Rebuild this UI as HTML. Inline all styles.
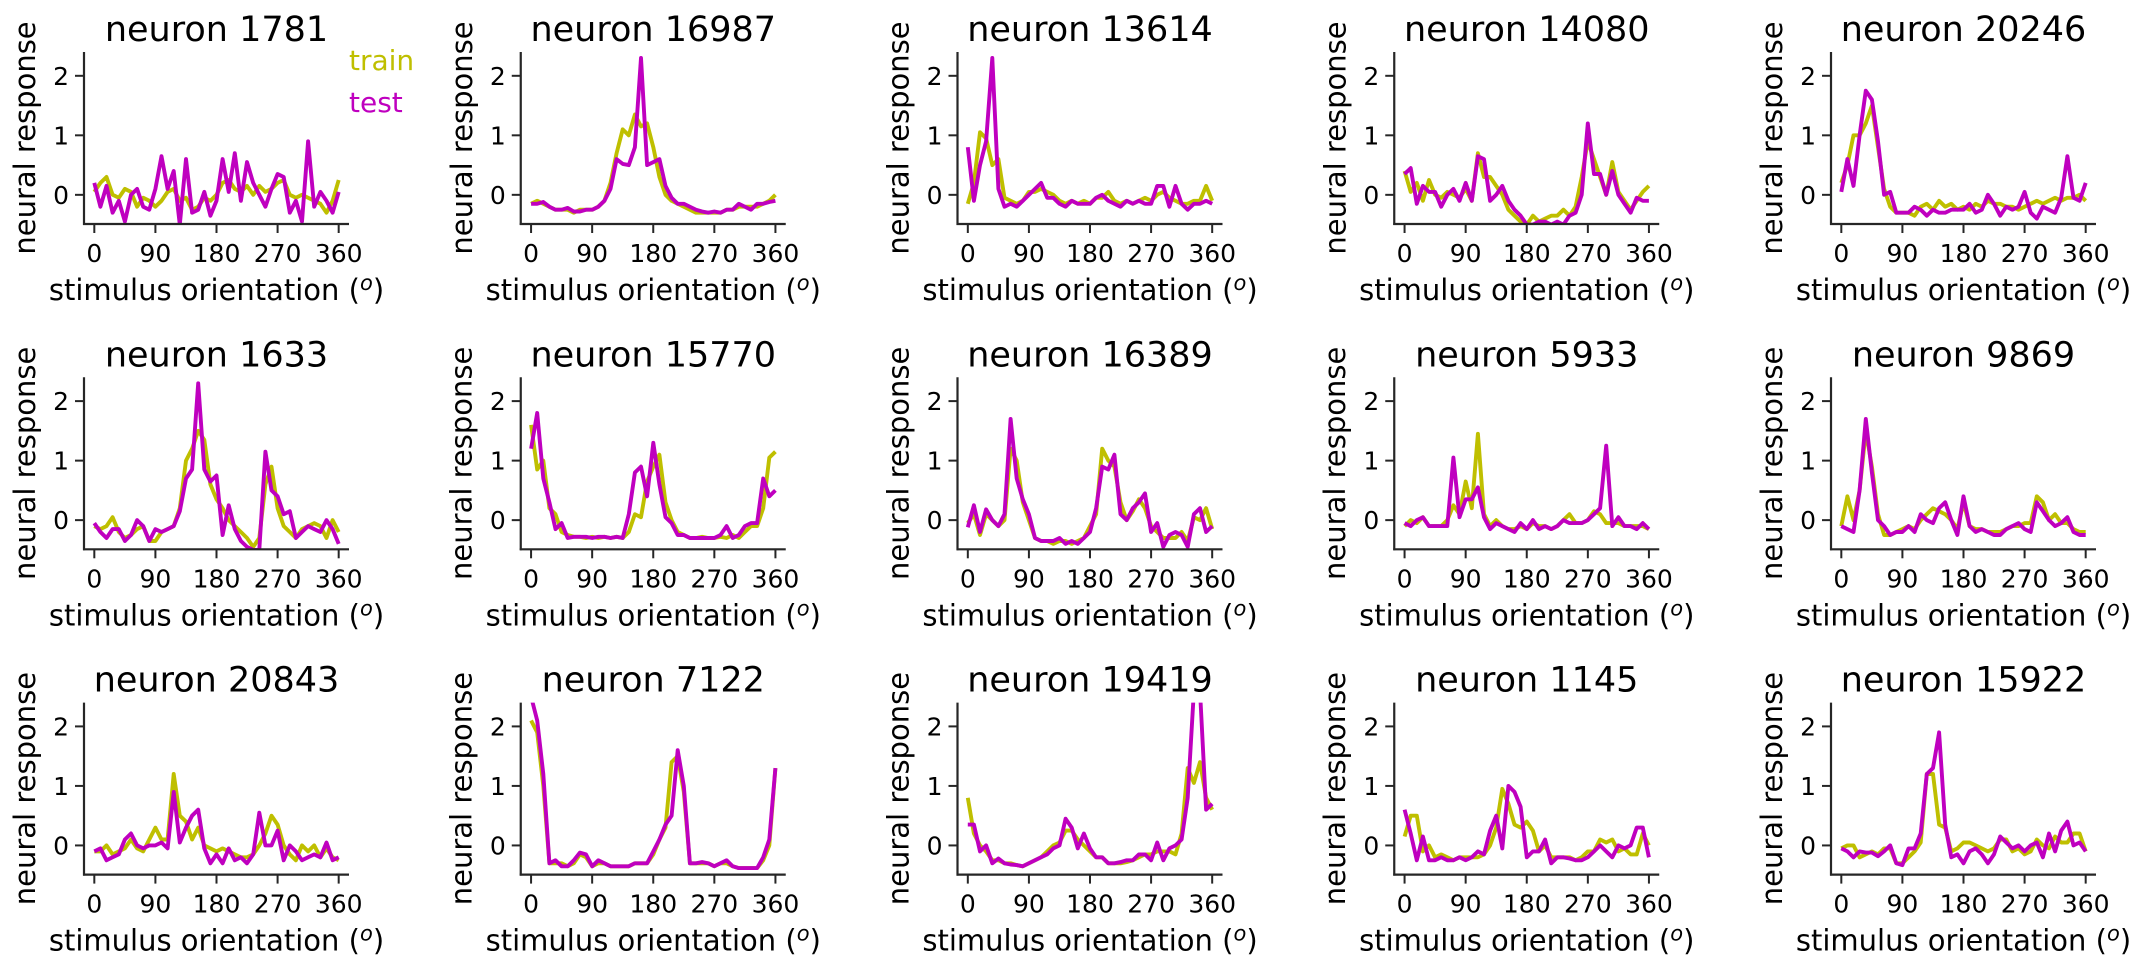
<!DOCTYPE html>
<html>
<head>
<meta charset="utf-8">
<style>
  html,body{margin:0;padding:0;background:#fff;}
  svg{display:block;font-family:"DejaVu Sans","Liberation Sans",sans-serif;}
</style>
</head>
<body>
<svg id="fig" width="2151" height="971" viewBox="0 0 2151 971" xmlns="http://www.w3.org/2000/svg"></svg>
<script>
// ---- data (values per 9° step, 0..360) ----
const neuronIds = ["1781","16987","13614","14080","20246","1633","15770","16389","5933","9869","20843","7122","19419","1145","15922"];
const xTicks = [0, 90, 180, 270, 360];
const yTicks = [0, 1, 2];

const train_1781 = [0.05,0.2,0.3,0.0,-0.05,0.1,0.05,-0.2,-0.05,-0.1,-0.2,-0.1,0.05,0.1,-0.1,-0.05,-0.25,-0.2,-0.05,-0.1,0.0,0.2,0.25,0.1,0.05,0.15,0.0,0.15,0.05,0.1,0.2,0.25,0.0,-0.05,0.0,-0.05,-0.1,-0.15,-0.3,-0.1,0.25];
const test_1781 = [0.2,-0.2,0.15,-0.3,-0.1,-0.45,0.0,0.1,-0.2,-0.25,0.1,0.65,0.1,0.4,-0.5,0.6,-0.3,-0.25,0.05,-0.35,-0.1,0.6,0.05,0.7,-0.1,0.55,0.2,0.0,-0.2,0.1,0.35,0.3,-0.3,-0.1,-0.45,0.9,-0.2,0.05,-0.1,-0.3,0.05];
const train_16987 = [-0.15,-0.1,-0.15,-0.2,-0.25,-0.25,-0.25,-0.3,-0.25,-0.25,-0.25,-0.2,-0.1,0.2,0.7,1.1,1.0,1.35,1.15,1.2,0.8,0.3,0.0,-0.1,-0.15,-0.2,-0.25,-0.3,-0.3,-0.3,-0.3,-0.3,-0.25,-0.25,-0.2,-0.2,-0.2,-0.2,-0.15,-0.1,0.0];
const test_16987 = [-0.15,-0.15,-0.12,-0.2,-0.25,-0.25,-0.22,-0.28,-0.28,-0.25,-0.25,-0.2,-0.1,0.1,0.6,0.52,0.5,0.8,2.3,0.5,0.55,0.6,0.15,-0.05,-0.15,-0.15,-0.2,-0.25,-0.28,-0.3,-0.28,-0.3,-0.25,-0.25,-0.15,-0.2,-0.25,-0.15,-0.15,-0.12,-0.1];
const train_13614 = [-0.15,0.2,1.05,0.95,0.5,0.6,-0.05,-0.1,-0.15,-0.1,0.05,0.05,0.1,0.05,0.0,-0.1,-0.15,-0.1,-0.15,-0.1,-0.15,-0.05,-0.05,0.05,-0.1,-0.15,-0.1,-0.15,-0.1,-0.05,-0.1,0.0,0.05,-0.05,-0.1,-0.15,-0.15,-0.1,-0.1,0.15,-0.1];
const test_13614 = [0.8,-0.1,0.5,0.9,2.3,0.1,-0.2,-0.15,-0.2,-0.1,0.0,0.1,0.2,-0.05,-0.05,-0.15,-0.2,-0.1,-0.15,-0.15,-0.15,-0.05,0.0,-0.1,-0.15,-0.2,-0.1,-0.15,-0.1,-0.15,-0.15,0.15,0.15,-0.2,0.15,-0.15,-0.25,-0.15,-0.15,-0.1,-0.15];
const train_14080 = [0.4,0.05,0.2,-0.1,0.25,0.0,-0.05,0.05,0.0,-0.05,0.1,-0.1,0.7,0.3,0.3,0.15,0.0,-0.25,-0.35,-0.45,-0.5,-0.35,-0.45,-0.4,-0.35,-0.35,-0.25,-0.35,-0.2,0.3,0.9,0.6,0.3,0.0,0.55,0.05,-0.1,-0.25,-0.1,0.05,0.15];
const test_14080 = [0.35,0.45,-0.15,0.15,0.05,0.05,-0.2,0.0,0.1,-0.1,0.2,-0.1,0.65,0.6,-0.1,0.0,0.15,-0.1,-0.25,-0.35,-0.5,-0.5,-0.45,-0.45,-0.5,-0.45,-0.5,-0.35,-0.3,0.0,1.2,0.35,0.35,0.0,0.4,0.0,-0.15,-0.3,-0.05,-0.1,-0.1];
const train_20246 = [0.2,0.5,1.0,1.0,1.2,1.5,0.8,0.1,-0.2,-0.3,-0.3,-0.3,-0.35,-0.2,-0.15,-0.25,-0.1,-0.2,-0.15,-0.25,-0.2,-0.25,-0.15,-0.2,-0.1,-0.15,-0.15,-0.2,-0.2,-0.25,-0.2,-0.15,-0.1,-0.15,-0.1,-0.05,-0.1,-0.05,-0.05,0.0,-0.1];
const test_20246 = [0.05,0.6,0.15,1.0,1.75,1.6,0.9,0.0,0.05,-0.3,-0.3,-0.3,-0.2,-0.25,-0.35,-0.25,-0.3,-0.3,-0.25,-0.25,-0.25,-0.15,-0.3,-0.25,0.0,-0.15,-0.35,-0.2,-0.25,-0.2,0.05,-0.3,-0.4,-0.2,-0.25,-0.3,-0.05,0.65,-0.05,-0.1,0.2];
const train_1633 = [-0.1,-0.15,-0.1,0.05,-0.2,-0.3,-0.25,-0.15,-0.1,-0.35,-0.35,-0.2,-0.15,-0.1,0.2,1.0,1.2,1.5,1.35,0.6,0.35,0.2,0.0,-0.1,-0.2,-0.3,-0.45,-0.3,0.6,0.9,0.2,-0.1,-0.2,-0.3,-0.15,-0.1,-0.05,-0.1,-0.3,0.0,-0.2];
const test_1633 = [-0.05,-0.2,-0.3,-0.15,-0.15,-0.35,-0.25,0.0,-0.1,-0.35,-0.15,-0.2,-0.15,-0.1,0.15,0.7,0.85,2.3,0.85,0.65,0.75,-0.25,0.25,-0.15,-0.35,-0.45,-0.5,-0.5,1.15,0.5,0.4,0.1,0.15,-0.3,-0.2,-0.1,-0.15,-0.2,0.0,-0.15,-0.4];
const train_15770 = [1.6,0.85,1.0,0.2,0.1,-0.2,-0.25,-0.28,-0.28,-0.3,-0.28,-0.3,-0.28,-0.3,-0.28,-0.3,-0.2,0.1,0.05,0.65,0.9,1.1,0.3,0.0,-0.2,-0.25,-0.3,-0.3,-0.28,-0.3,-0.3,-0.28,-0.3,-0.25,-0.3,-0.2,-0.1,-0.1,0.2,1.05,1.15];
const test_15770 = [1.2,1.8,0.7,0.3,-0.15,-0.05,-0.3,-0.28,-0.28,-0.28,-0.3,-0.28,-0.28,-0.3,-0.28,-0.3,0.1,0.8,0.9,0.4,1.3,0.6,0.05,-0.05,-0.25,-0.25,-0.3,-0.3,-0.3,-0.3,-0.3,-0.25,-0.1,-0.3,-0.25,-0.1,-0.05,-0.05,0.7,0.4,0.5];
const train_16389 = [-0.05,0.1,-0.25,0.1,0.0,-0.1,0.0,1.2,1.0,0.3,0.0,-0.3,-0.35,-0.35,-0.4,-0.35,-0.35,-0.4,-0.35,-0.3,-0.1,0.1,1.2,1.0,0.9,0.3,0.0,0.15,0.35,0.2,-0.1,-0.2,-0.3,-0.3,-0.3,-0.2,-0.35,0.05,0.0,0.2,-0.15];
const test_16389 = [-0.12,0.25,-0.2,0.18,0.0,-0.1,0.1,1.7,0.7,0.35,0.1,-0.3,-0.35,-0.35,-0.35,-0.3,-0.4,-0.35,-0.4,-0.3,-0.2,0.2,0.9,0.85,1.1,0.1,0.0,0.2,0.3,0.45,-0.2,-0.05,-0.45,-0.25,-0.2,-0.25,-0.45,0.1,0.2,-0.2,-0.1];
const train_5933 = [-0.1,0.0,-0.05,0.05,-0.1,-0.1,-0.1,0.0,0.25,0.1,0.65,0.2,1.45,0.1,-0.1,0.0,-0.1,-0.15,-0.15,-0.1,-0.15,-0.05,-0.1,-0.1,-0.15,-0.1,0.0,0.1,-0.05,-0.05,0.0,0.15,0.1,-0.05,-0.05,-0.05,-0.1,-0.1,-0.1,-0.1,-0.15];
const test_5933 = [-0.05,-0.1,0.0,0.05,-0.1,-0.1,-0.1,-0.1,1.05,0.05,0.35,0.35,0.55,0.05,-0.15,-0.05,-0.1,-0.15,-0.2,-0.05,-0.15,0.0,-0.15,-0.1,-0.15,-0.1,0.0,-0.05,-0.05,-0.05,0.0,0.1,0.2,1.25,-0.1,0.05,-0.1,-0.1,-0.15,-0.05,-0.15];
const train_9869 = [-0.1,0.4,0.0,0.5,1.5,0.9,0.1,-0.25,-0.25,-0.2,-0.15,-0.1,-0.15,0.0,0.1,0.2,0.15,0.1,0.0,-0.15,0.3,-0.1,-0.15,-0.15,-0.2,-0.2,-0.2,-0.15,-0.1,-0.1,-0.05,-0.05,0.4,0.3,0.0,0.1,-0.05,-0.05,-0.15,-0.2,-0.2];
const test_9869 = [-0.1,-0.15,-0.2,0.5,1.7,0.8,0.0,-0.1,-0.25,-0.2,-0.2,-0.1,-0.2,0.1,0.0,-0.05,0.2,0.3,0.0,-0.25,0.4,-0.1,-0.2,-0.15,-0.2,-0.25,-0.25,-0.15,-0.1,-0.05,-0.15,-0.2,0.3,0.15,0.0,-0.1,-0.05,0.05,-0.2,-0.25,-0.25];
const train_20843 = [-0.1,-0.1,0.0,-0.15,-0.1,-0.05,0.1,-0.05,-0.1,0.1,0.3,0.1,0.1,1.2,0.5,0.4,0.1,0.3,0.0,-0.05,-0.1,-0.05,-0.1,-0.15,-0.2,-0.2,-0.15,0.0,0.2,0.5,0.35,0.0,-0.15,-0.25,0.0,-0.1,0.0,-0.2,-0.05,-0.2,-0.25];
const test_20843 = [-0.1,-0.05,-0.25,-0.2,-0.15,0.1,0.2,0.0,-0.05,0.0,0.0,0.05,-0.05,0.9,0.05,0.3,0.5,0.6,-0.05,-0.3,-0.15,-0.3,-0.05,-0.25,-0.2,-0.3,-0.15,0.55,0.0,0.0,0.25,-0.25,0.0,-0.1,-0.25,-0.2,-0.15,-0.2,0.05,-0.25,-0.2];
const train_7122 = [2.1,1.9,1.0,-0.3,-0.3,-0.3,-0.35,-0.3,-0.15,-0.2,-0.35,-0.3,-0.3,-0.35,-0.35,-0.35,-0.35,-0.3,-0.3,-0.3,-0.15,0.1,0.3,1.4,1.5,0.9,-0.3,-0.3,-0.3,-0.3,-0.35,-0.3,-0.3,-0.35,-0.38,-0.38,-0.38,-0.38,-0.25,0.0,1.3];
const test_7122 = [2.5,2.1,1.2,-0.3,-0.25,-0.35,-0.35,-0.25,-0.12,-0.15,-0.35,-0.25,-0.3,-0.35,-0.35,-0.35,-0.35,-0.3,-0.3,-0.3,-0.1,0.1,0.35,0.5,1.6,1.0,-0.3,-0.3,-0.28,-0.3,-0.35,-0.3,-0.25,-0.35,-0.38,-0.38,-0.38,-0.38,-0.2,0.1,1.3];
const train_19419 = [0.8,0.2,0.0,-0.1,-0.25,-0.25,-0.3,-0.3,-0.33,-0.35,-0.3,-0.25,-0.2,-0.1,0.0,0.05,0.25,0.25,0.1,0.0,-0.1,-0.2,-0.2,-0.3,-0.3,-0.3,-0.28,-0.25,-0.2,-0.15,-0.15,-0.1,-0.1,-0.1,-0.15,0.2,1.3,1.05,1.4,0.8,0.6];
const test_19419 = [0.35,0.35,-0.1,0.0,-0.3,-0.22,-0.3,-0.32,-0.33,-0.35,-0.3,-0.25,-0.2,-0.15,-0.05,0.0,0.45,0.3,-0.05,0.2,-0.05,-0.2,-0.2,-0.3,-0.3,-0.28,-0.25,-0.25,-0.15,-0.15,-0.25,0.05,-0.25,-0.05,0.0,0.1,0.8,2.6,2.6,0.6,0.7];
const train_1145 = [0.15,0.5,0.5,-0.1,0.0,-0.2,-0.15,-0.2,-0.25,-0.2,-0.2,-0.2,-0.2,-0.15,0.0,0.3,0.95,0.7,0.35,0.3,0.4,0.25,-0.1,0.0,-0.2,-0.2,-0.2,-0.2,-0.25,-0.2,-0.1,-0.1,0.1,0.05,0.1,-0.1,-0.05,-0.15,-0.15,0.2,0.0];
const test_1145 = [0.6,0.2,-0.25,0.15,-0.25,-0.25,-0.2,-0.25,-0.25,-0.2,-0.25,-0.2,-0.1,-0.15,0.25,0.5,-0.05,1.0,0.9,0.65,-0.2,-0.1,-0.1,0.1,-0.3,-0.2,-0.2,-0.22,-0.25,-0.25,-0.2,-0.1,0.0,-0.1,-0.2,0.0,-0.05,0.0,0.3,0.3,-0.2];
const train_15922 = [-0.05,0.0,0.0,-0.2,-0.15,-0.1,-0.15,-0.05,-0.05,-0.3,-0.3,-0.2,-0.1,0.05,1.2,1.2,0.35,0.3,-0.1,-0.05,0.05,0.05,0.0,-0.05,-0.1,-0.05,0.1,0.1,-0.1,-0.05,-0.15,-0.1,0.1,0.0,-0.05,0.15,0.05,0.05,0.2,0.2,-0.1];
const test_15922 = [-0.05,-0.1,-0.2,-0.1,-0.12,-0.12,-0.18,-0.1,0.0,-0.3,-0.33,-0.05,-0.05,0.2,1.2,1.3,1.9,0.35,-0.2,-0.15,-0.3,-0.1,-0.05,-0.15,-0.3,-0.15,0.15,0.05,-0.05,0.0,-0.1,0.0,0.05,-0.2,0.2,-0.1,0.25,0.4,0.0,0.05,-0.1];

const trainSeries = [train_1781,train_16987,train_13614,train_14080,train_20246,train_1633,train_15770,train_16389,train_5933,train_9869,train_20843,train_7122,train_19419,train_1145,train_15922];
const testSeries = [test_1781,test_16987,test_13614,test_14080,test_20246,test_1633,test_15770,test_16389,test_5933,test_9869,test_20843,test_7122,test_19419,test_1145,test_15922];

// ---- layout ----
const NS = "http://www.w3.org/2000/svg";
const svg = document.getElementById("fig");
const AX_W = 265, AX_H = 172, COL_STEP = 436.75, ROW_STEP = 325.3, AX_LEFT0 = 84, AX_TOP0 = 52;
const XMIN = -15.2, XMAX = 375.2, YMIN = -0.49, YMAX = 2.4;
const TRAIN_COLOR = "#bfbf00", TEST_COLOR = "#bf00bf", INK = "#262626";

function mk(tag, attrs, parent) {
  const e = document.createElementNS(NS, tag);
  for (const k in attrs) e.setAttribute(k, attrs[k]);
  parent.appendChild(e);
  return e;
}

neuronIds.forEach((id, p) => {
  const r = Math.floor(p / 5), c = p % 5;
  const L = AX_LEFT0 + c * COL_STEP, T = AX_TOP0 + r * ROW_STEP, B = T + AX_H, R = L + AX_W;
  const xs = v => L + (v - XMIN) / (XMAX - XMIN) * AX_W;
  const ys = v => B - (v - YMIN) / (YMAX - YMIN) * AX_H;

  const g = mk("g", {}, svg);
  
  

  const clipId = "clip" + p;
  const cp = mk("clipPath", {id: clipId}, g);
  mk("rect", {x: L, y: T, width: AX_W, height: AX_H}, cp);

  const title = mk("text", {x: (L + R) / 2, y: T - 11, "text-anchor": "middle", "font-size": 35, fill: "#000"}, g);
  title.textContent = "neuron " + id;
  
  

  [[trainSeries[p], TRAIN_COLOR, "train-line"], [testSeries[p], TEST_COLOR, "test-line"]].forEach(([vals, col, nm]) => {
    const n = vals.length;
    const pts = vals.map((v, i) => xs(360 * i / (n - 1)).toFixed(1) + "," + ys(v).toFixed(1)).join(" ");
    const pl = mk("polyline", {points: pts, fill: "none", stroke: col, "stroke-width": 3.9, "stroke-linejoin": "round", "clip-path": "url(#" + clipId + ")"}, g);
    
    
  });

  const ys1 = mk("line", {x1: L, y1: T, x2: L, y2: B + 1, stroke: INK, "stroke-width": 2.2}, g);
  
  
  const xs1 = mk("line", {x1: L - 1, y1: B, x2: R, y2: B, stroke: INK, "stroke-width": 2.2}, g);
  
  

  yTicks.forEach(t => {
    const y = ys(t);
    mk("line", {x1: L - 9, y1: y, x2: L, y2: y, stroke: INK, "stroke-width": 2}, g);
    const tl = mk("text", {x: L - 15, y: y + 9, "text-anchor": "end", "font-size": 25, fill: "#000"}, g);
    tl.textContent = t;
    
    
  });
  xTicks.forEach(t => {
    const x = xs(t);
    mk("line", {x1: x, y1: B, x2: x, y2: B + 9, stroke: INK, "stroke-width": 2}, g);
    const tl = mk("text", {x: x, y: B + 38, "text-anchor": "middle", "font-size": 25, fill: "#000"}, g);
    tl.textContent = t;
    
    
  });

  const xl = mk("text", {x: (L + R) / 2, y: B + 76, "text-anchor": "middle", "font-size": 29, fill: "#000"}, g);
  xl.innerHTML = 'stimulus orientation (<tspan font-style="italic" font-size="21" dy="-10">o</tspan><tspan dy="10">)</tspan>';
  
  

  const cy = (T + B) / 2, cx = L - 59;
  const yl = mk("text", {x: cx, y: cy, "text-anchor": "middle", "dominant-baseline": "central", "font-size": 29, fill: "#000", transform: "rotate(-90 " + cx + " " + cy + ")"}, g);
  yl.textContent = "neural response";
  
  

  if (p === 0) {
    const lt = mk("text", {x: 349, y: 70, "font-size": 28, fill: TRAIN_COLOR}, g);
    lt.textContent = "train";
    
    
    const le = mk("text", {x: 349, y: 112, "font-size": 28, fill: TEST_COLOR}, g);
    le.textContent = "test";
    
    
  }
});
</script>
</body>
</html>
